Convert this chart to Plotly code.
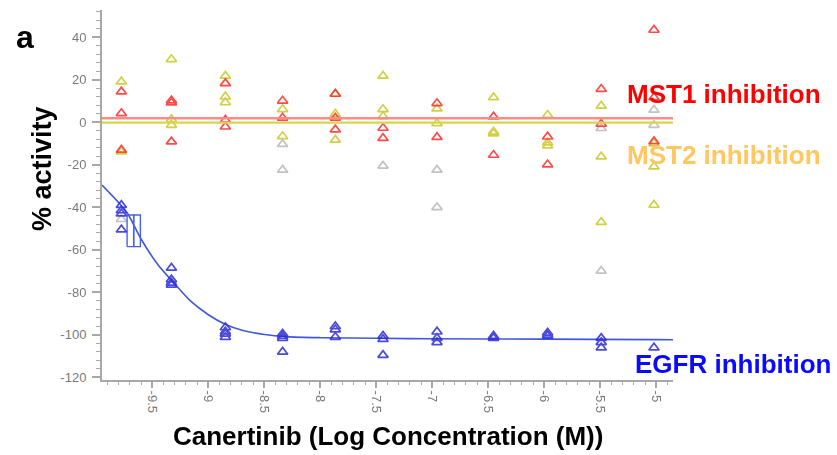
import plotly.graph_objects as go

# ---- data ----
log_conc = [-9.777, -9.33, -8.848, -8.337, -7.866, -7.44, -6.958, -6.453, -5.97, -5.491, -5.02]

mst1_values = [
    [14.4, 4.2, -13.0],
    [10.2, 9.2, -9.1],
    [18.3, 1.1, -2.1],
    [10.1, 2.1],
    [13.3, 2.1, -3.5],
    [-2.7, -7.5],
    [8.9, -7.0],
    [2.6, -15.4],
    [-6.8, -19.9],
    [15.6, -0.8],
    [43.4, 11.7, -9.0],
]
mst2_values = [
    [19.1, -13.8],
    [29.6, 1.4, -1.3],
    [21.8, 12.0, 9.3],
    [6.1, -6.6],
    [13.3, 3.9, -8.3],
    [21.8, 6.1, 2.8],
    [6.4, -0.5],
    [11.7, -4.5, -5.3],
    [3.4, -9.6, -11.0],
    [7.7, -16.2, -47.0],
    [-10.0, -20.9, -38.9],
]
excluded_values = [
    [-45.6], [], [], [-10.3, -22.4], [], [-20.5], [-22.4, -40.0], [], [], [-2.8, -69.9], [5.8, -1.3],
]
egfr_values = [
    [-39.0, -41.5, -43.0, -50.5],
    [-68.5, -74.0, -75.5, -76.5],
    [-96.5, -98.5, -99.5, -101.0],
    [-99.5, -100.5, -101.5, -108.0],
    [-96.0, -97.5, -101.0],
    [-100.5, -102.0, -109.5],
    [-98.5, -101.5, -103.5],
    [-100.5, -101.0, -101.5],
    [-99.0, -100.0, -100.5],
    [-101.5, -103.5, -106.0],
    [-106.0],
]

mst1_fit_level = 1.9
mst2_fit_level = -0.2

egfr_curve_x = [-9.95, -9.80, -9.72, -9.60, -9.45, -9.30, -9.15, -9.00, -8.85, -8.70,
                -8.50, -8.30, -8.00, -7.50, -7.00, -6.00, -5.00, -4.85]
egfr_curve_y = [-29.5, -37.8, -43.0, -55.0, -67.0, -76.0, -84.5, -90.5, -95.0, -97.8,
                -99.8, -100.8, -101.3, -101.6, -101.8, -102.0, -102.2, -102.3]

ic50_log = -9.667
ic50_ci = [-9.726, -9.607]
ic50_box_y = [-58.5, -43.6]

x_ticks = [-9.5, -9, -8.5, -8, -7.5, -7, -6.5, -6, -5.5, -5]
x_tick_labels = ["-9.5", "-9", "-8.5", "-8", "-7.5", "-7", "-6.5", "-6", "-5.5", "-5"]
y_ticks = [-120, -100, -80, -60, -40, -20, 0, 20, 40]
y_tick_labels = ["-120", "-100", "-80", "-60", "-40", "-20", "0", "20", "40"]
x_range = [-9.95, -4.85]
y_range = [-121.2, 52.8]


def flatten(values):
    xs, ys = [], []
    for xv, col in zip(log_conc, values):
        for v in col:
            xs.append(xv)
            ys.append(v)
    return xs, ys


FONT = "Liberation Sans, Arial, Helvetica, sans-serif"
fig = go.Figure()

def add_points(values, color, name):
    xs, ys = flatten(values)
    fig.add_trace(go.Scatter(
        x=xs, y=ys, mode="markers", name=name,
        marker=dict(symbol="triangle-up-open", size=9, color=color,
                    line=dict(width=1.7, color=color)),
        opacity=0.85, cliponaxis=False))

add_points(excluded_values, "#b8b8b8", "excluded")

# fit lines for MST1 / MST2
fig.add_hline(y=mst2_fit_level, line=dict(color="#d6d64a", width=2.2))
fig.add_hline(y=mst1_fit_level, line=dict(color="#ff8a8a", width=2.6))

add_points(mst2_values, "#c8c828", "MST2")
add_points(mst1_values, "#ff2a2a", "MST1")

# EGFR fitted curve
fig.add_trace(go.Scatter(x=egfr_curve_x, y=egfr_curve_y, mode="lines",
                         line=dict(color="#3f58dc", width=1.6, shape="spline", smoothing=0.8),
                         name="EGFR fit"))
# IC50 confidence box
bx = [ic50_ci[0], ic50_log, ic50_log, ic50_ci[0], ic50_ci[0], None,
      ic50_log, ic50_ci[1], ic50_ci[1], ic50_log, ic50_log]
by = [ic50_box_y[0], ic50_box_y[0], ic50_box_y[1], ic50_box_y[1], ic50_box_y[0], None,
      ic50_box_y[0], ic50_box_y[0], ic50_box_y[1], ic50_box_y[1], ic50_box_y[0]]
fig.add_trace(go.Scatter(x=bx, y=by, mode="lines", line=dict(color="#4a62e0", width=1.4),
                         name="IC50"))

add_points(egfr_values, "#2b2bd8", "EGFR")

axis_color = "#a8a8a8"
tick_font = dict(family=FONT, size=13, color="#7a7a7a")

fig.update_xaxes(range=x_range, tickmode="array", tickvals=x_ticks, ticktext=x_tick_labels,
                 tickangle=90, ticks="outside", ticklen=6, tickwidth=1.5, tickcolor=axis_color,
                 showline=True, linecolor=axis_color, linewidth=2, showgrid=False, zeroline=False,
                 tickfont=tick_font,
                 minor=dict(tickmode="linear", tick0=-5, dtick=0.1, ticks="outside", ticklen=3,
                            tickwidth=1.2, tickcolor=axis_color, showgrid=False))
fig.update_yaxes(range=y_range, tickmode="array", tickvals=y_ticks, ticktext=y_tick_labels,
                 ticks="outside", ticklen=8, tickwidth=1.5, tickcolor=axis_color,
                 ticklabelstandoff=3,
                 showline=True, linecolor=axis_color, linewidth=2, showgrid=False, zeroline=False,
                 tickfont=tick_font,
                 minor=dict(tickmode="linear", tick0=0, dtick=4, ticks="outside", ticklen=4,
                            tickwidth=1.2, tickcolor=axis_color, showgrid=False))

big = dict(family=FONT, size=26)
annotations = [
    dict(text="<b>a</b>", xref="paper", yref="paper", x=0, y=1, xshift=-77, yshift=-27,
         xanchor="center", yanchor="middle", showarrow=False,
         font=dict(family=FONT, size=32, color="black")),
    dict(text="<b>% activity</b>", xref="paper", yref="y domain", x=0, y=0.5,
         xshift=-60, yshift=26, textangle=-90, xanchor="center", yanchor="middle",
         showarrow=False, font=dict(family=FONT, size=27, color="black")),
    dict(text="<b>Canertinib (Log Concentration (M))</b>", xref="x domain", yref="y domain",
         x=0.5, y=0, yshift=-56, xanchor="center", yanchor="middle", showarrow=False,
         font=dict(**big, color="black")),
    dict(text="<b>MST1 inhibition</b>", xref="paper", yref="paper", x=0.916, y=1,
         yshift=-84, xanchor="left", yanchor="middle", showarrow=False,
         font=dict(**big, color="#ff0000")),
    dict(text="<b>MST2 inhibition</b>", xref="paper", yref="paper", x=0.916, y=1,
         yshift=-145, xanchor="left", yanchor="middle", showarrow=False,
         font=dict(**big, color="#ffc75e")),
    dict(text="<b>EGFR inhibition</b>", xref="paper", yref="paper", x=0.930, y=1,
         yshift=-354, xanchor="left", yanchor="middle", showarrow=False,
         font=dict(**big, color="#0a0aff")),
]

fig.update_layout(width=837, height=455, margin=dict(l=102, r=164, t=10, b=75, pad=0),
                  plot_bgcolor="white", paper_bgcolor="white", showlegend=False,
                  annotations=annotations, font=dict(family=FONT))

fig.write_html("out.html", config={"displayModeBar": False},
               post_script="document.body.style.margin='0';document.body.style.overflow='hidden';")
